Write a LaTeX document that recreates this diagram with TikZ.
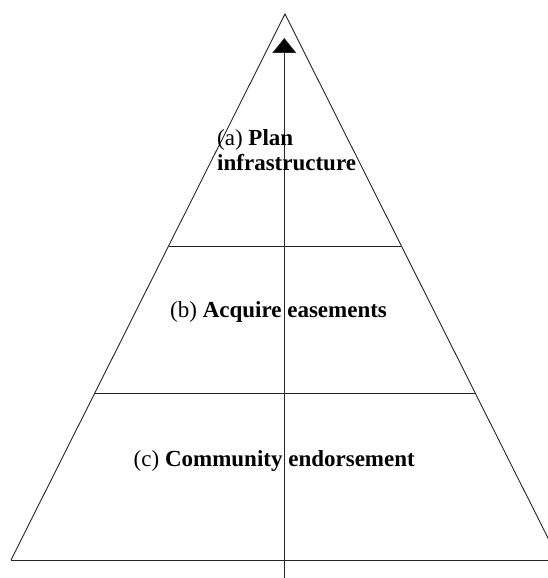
\documentclass[tikz,border=0pt]{standalone}
\usepackage{fontspec}
\setmainfont{Liberation Serif}
\usetikzlibrary{arrows.meta}
\begin{document}
\begin{tikzpicture}[x=1pt,y=-1pt,
  edge/.style={line width=0.9pt,draw=black!85},
  lbl/.style={font=\fontsize{23}{25}\selectfont,inner sep=0pt,align=left}]
\useasboundingbox (0,0) rectangle (548,578);
\clip (0,0) rectangle (548,578);
\coordinate (apex) at (285,14);
\coordinate (bl) at (11,560);
\coordinate (br) at (559,560);
\coordinate (l1) at (168.6,246);
\coordinate (r1) at (401.4,246);
\coordinate (l2) at (94.8,393);
\coordinate (r2) at (475.2,393);
\coordinate (axb) at (284.3,580);
\coordinate (axt) at (284.3,38);
\draw[edge] (bl) -- (apex) -- (br);
\draw[edge] (bl) -- (br);
\draw[edge] (l1) -- (r1);
\draw[edge] (l2) -- (r2);
\draw[edge,-{Triangle[length=15pt,width=24pt,fill=black]}] (axb) -- (axt);
\node[lbl,anchor=base west] (ta) at (217,170) {(a) \textbf{Plan}\\\textbf{infrastructure}};
\node[lbl,anchor=base west] (tb) at (170,317) {(b) \textbf{Acquire easements}};
\node[lbl,anchor=base east] (tc) at (415,466) {(c) \textbf{Community endorsement}};
\end{tikzpicture}
\end{document}
